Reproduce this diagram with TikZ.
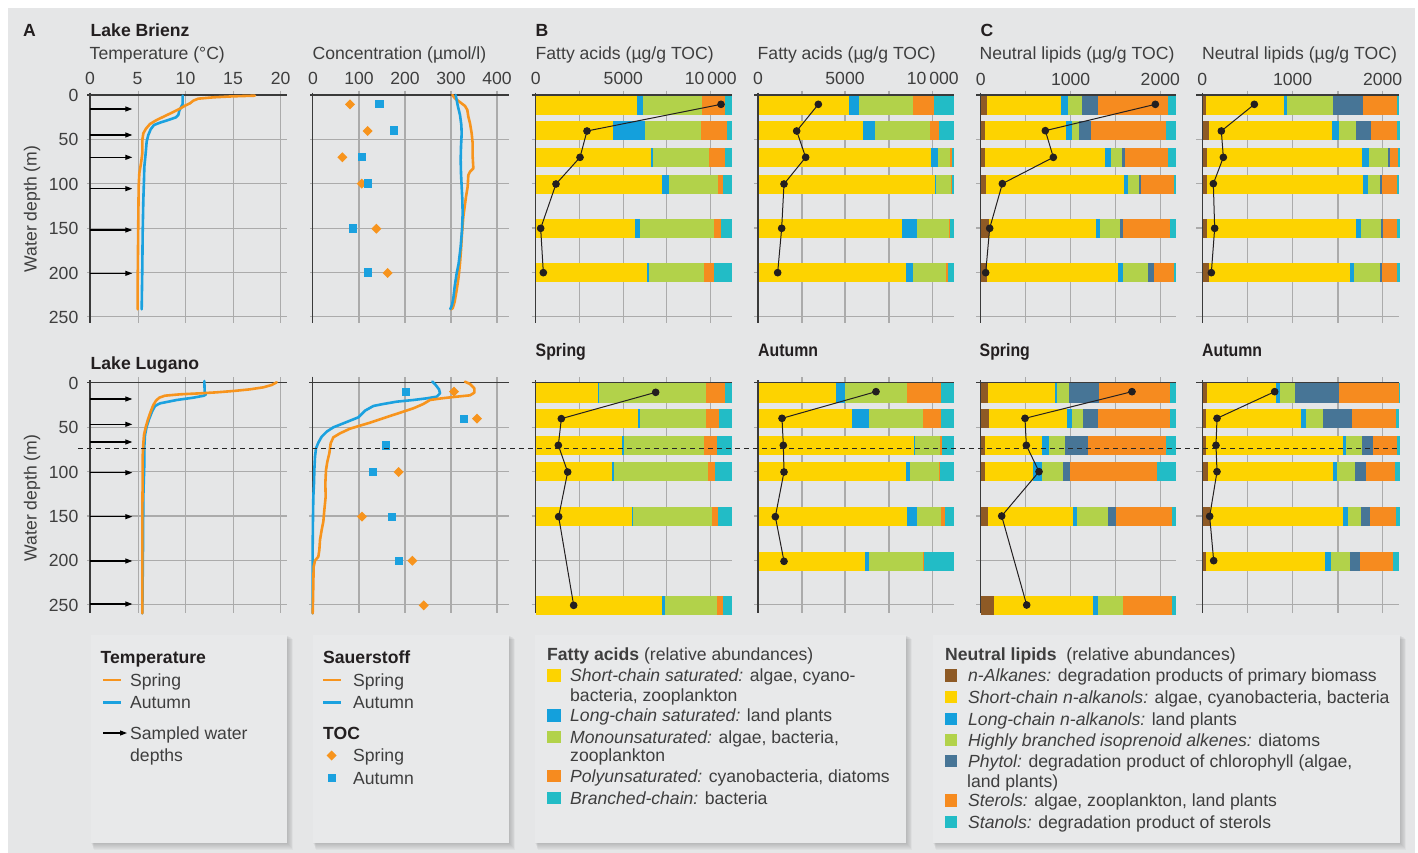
\documentclass[tikz,border=0pt]{standalone}
\usepackage{fontspec}
\setmainfont{Liberation Sans}
\newfontfamily\condfont[FakeStretch=0.88]{Liberation Sans}
\usetikzlibrary{arrows.meta}
\definecolor{bg}{HTML}{E5E6E7}
\definecolor{boxbg}{HTML}{E8E9EA}
\definecolor{cY}{HTML}{FDD300}
\definecolor{cB}{HTML}{14A0DC}
\definecolor{cG}{HTML}{B2D24A}
\definecolor{cO}{HTML}{F68B1F}
\definecolor{cC}{HTML}{22BCC6}
\definecolor{cBr}{HTML}{8E5A25}
\definecolor{cS}{HTML}{477596}
\definecolor{gridc}{HTML}{ABABAB}
\definecolor{axc}{HTML}{3A3A3A}
\definecolor{txt}{HTML}{3E3E3E}
\definecolor{hdc}{HTML}{231F20}
\definecolor{lineO}{HTML}{F7941D}
\definecolor{lineB}{HTML}{1BA1DF}
\newcommand\myfs{\fontsize{17.6}{21}\selectfont}
\newcommand\segbar[3]{\foreach \ssa/\ssb/\ssc in {#3}{\fill[\ssc] (\ssa,#1) rectangle (\ssb,#2);}}
\newcommand\tocD[2]{\fill[lineO] (#1,#2) +(0,-15) -- +(15,0) -- +(0,15) -- +(-15,0) -- cycle;}
\newcommand\tocS[2]{\fill[lineB] (#1,#2) +(-12.5,-12.5) rectangle +(12.5,12.5);}
\newcommand\legbox[4]{%
  \foreach \s in {1,...,7}{\fill[black,opacity=0.028] (#1+\s*0.4,#2+\s*0.6) rectangle (#3+\s*0.9,#4+\s*1.0);}
  \fill[boxbg] (#1,#2) rectangle (#3,#4);}
\tikzset{
  gridl/.style={draw=gridc, line width=1.4pt},
  axl/.style={draw=axc, line width=1.3pt},
  dl/.style={draw=hdc, line width=1pt, mark=*, mark size=3.3pt, mark options={fill=hdc, draw=hdc}},
  tO/.style={draw=lineO, line width=2.6pt, line join=round, line cap=round},
  tB/.style={draw=lineB, line width=2.6pt, line join=round, line cap=round},
  arr/.style={draw=black, line width=1.1pt, -{Triangle[length=7pt,width=5pt]}},
  lt/.style={font=\myfs, text=txt, inner sep=0pt, anchor=base west},
  tk/.style={font=\myfs, text=txt, inner sep=0pt, anchor=base},
  yk/.style={font=\myfs, text=txt, inner sep=0pt, anchor=base east},
  hd/.style={font=\myfs\bfseries, text=hdc, inner sep=0pt, anchor=base west},
  sh/.style={font=\fontsize{18}{21}\condfont\bfseries, text=hdc, inner sep=0pt, anchor=base west},
}
\begin{document}
\begin{tikzpicture}[x=1pt,y=-1pt]
\useasboundingbox (0,0) rectangle (1418,853);
\fill[white] (0,0) rectangle (1418,853);
\fill[bg] (8,8) rectangle (1415,853);

% ---------------- titles ----------------
\node[hd] (tA) at (23,36.5) {A};
\node[hd] (tBr) at (90.5,37) {Lake Brienz};
\node[lt] (tTemp) at (89.5,60) {Temperature (°C)};
\node[lt] (tConc) at (312.5,60) {Concentration (µmol/l)};
\node[hd] (tB) at (535.5,36.5) {B};
\node[lt] (tFA1) at (535.5,60) {Fatty acids (µg/g TOC)};
\node[lt] (tFA2) at (757.5,60) {Fatty acids (µg/g TOC)};
\node[hd] (tC) at (980.5,36.5) {C};
\node[lt] (tNL1) at (979.5,60) {Neutral lipids (µg/g TOC)};
\node[lt] (tNL2) at (1202,60) {Neutral lipids (µg/g TOC)};
\node[hd] (tLu) at (90.5,369) {Lake Lugano};
\node[sh] (s1) at (535.5,356.7) {Spring};
\node[sh] (s2) at (758,356.7) {Autumn};
\node[sh] (s3) at (979.5,356.7) {Spring};
\node[sh] (s4) at (1202,356.7) {Autumn};
\node[font=\myfs, text=txt, rotate=90, inner sep=0pt] (wd1) at (32,209) {Water depth (m)};
\node[font=\myfs, text=txt, rotate=90, inner sep=0pt] (wd2) at (32,498) {Water depth (m)};

% x tick labels
\foreach \v/\xx in {0/90,5/137.5,10/185.5,15/233,20/280.7} \node[tk] (xt\v) at (\xx,85) {\v};
\foreach \v/\xx in {0/313,100/359,200/405,300/451,400/497} \node[tk] (xc\v) at (\xx,85) {\v};
\foreach \v/\xx in {0/535.7,5000/623.3} \node[tk] (xfa\v) at (\xx,85) {\v};
\node[tk] (xfaT) at (710.7,85) {10\,000};
\foreach \v/\xx in {0/758,5000/845} \node[tk] (xfb\v) at (\xx,85) {\v};
\node[tk] (xfbT) at (932.7,85) {10\,000};
\foreach \v/\xx in {0/980.7,1000/1070.7,2000/1160.3} \node[tk] (xn\v) at (\xx,86) {\v};
\foreach \v/\xx in {0/1202.3,1000/1292.7,2000/1382.7} \node[tk] (xm\v) at (\xx,86) {\v};
% y tick labels
\foreach \v/\yy in {0/95,50/139.3,100/183.7,150/228.3,200/272.7,250/316.7} \node[yk] (ya\v) at (78.5,\yy+6.3) {\v};
\foreach \v/\yy in {0/382.7,50/427.3,100/471.7,150/516,200/560.3,250/604.7} \node[yk] (yb\v) at (78.5,\yy+6.3) {\v};

% ================= Temperature Brienz =================
\begin{scope}[shift={(0pt,0pt)},x=0.33333pt,y=-0.33333pt]
\foreach \g in {415,557,700,842} \draw[gridl] (\g,272) -- (\g,968);
\foreach \g in {418,551,685,818,950} \draw[gridl] (262,\g) -- (860,\g);
\draw[axl] (270,278) -- (270,968);
\draw[axl] (262,285) -- (860,285);
\foreach \a in {327,405,472,566,690,820} \draw[arr] (270,\a) -- (397,\a);
\draw[tB] (548,287) -- (548,312) -- (543,322) -- (538,332) -- (535,345) -- (528,352) -- (505,360) -- (480,368) -- (462,375) -- (452,388) -- (445,405) -- (440,425) -- (437,460) -- (433,500) -- (432,540) -- (430,600) -- (428,700) -- (427,800) -- (425,928);
\draw[tO] (765,287) -- (700,289) -- (640,292) -- (595,296) -- (580,302) -- (570,310) -- (555,317) -- (540,326) -- (520,336) -- (495,348) -- (470,360) -- (450,372) -- (438,386) -- (430,400) -- (427,420) -- (427,460) -- (423,490) -- (418,520) -- (416,560) -- (415,650) -- (414,750) -- (413,850) -- (413,928);
\end{scope}

% ================= Temperature Lugano =================
\begin{scope}[shift={(0pt,-330pt)},x=0.33333pt,y=-0.33333pt]
\foreach \g in {415,557,700,842} \draw[gridl] (\g,142) -- (\g,850);
\foreach \g in {292,425,558,691,824} \draw[gridl] (262,\g) -- (860,\g);
\draw[axl] (270,150) -- (270,850);
\draw[axl] (262,158) -- (860,158);
\foreach \a in {207,283,336,428,560,693,822} \draw[arr] (270,\a) -- (397,\a);
\draw[tB] (613,153) -- (614,185) -- (618,193) -- (612,197) -- (580,203) -- (530,210) -- (480,220) -- (465,228) -- (456,245) -- (447,268) -- (440,290) -- (435,315) -- (433,350) -- (433,400) -- (430,500) -- (429,650) -- (428,750) -- (427,850);
\draw[tO] (830,157) -- (815,165) -- (790,172) -- (750,178) -- (700,183) -- (650,187) -- (600,190) -- (540,193) -- (495,197) -- (478,203) -- (468,212) -- (460,225) -- (452,245) -- (444,268) -- (437,292) -- (432,315) -- (430,340) -- (428,380) -- (428,450) -- (427,550) -- (427,700) -- (427,850);
\end{scope}

% ================= Concentration Brienz =================
\begin{scope}[shift={(290pt,0pt)},x=0.33333pt,y=-0.33333pt]
\foreach \g in {207,345,483,621} \draw[gridl] (\g,272) -- (\g,968);
\foreach \g in {418,551,685,818,950} \draw[gridl] (60,\g) -- (656,\g);
\draw[axl] (68,278) -- (68,968);
\draw[axl] (60,285) -- (656,285);
\draw[tO] (487,285) -- (495,295) -- (508,305) -- (525,318) -- (532,330) -- (535,350) -- (540,370) -- (545,400) -- (548,430) -- (548,470) -- (550,505) -- (540,515) -- (535,525) -- (533,560) -- (528,590) -- (524,620) -- (520,650) -- (516,700) -- (513,750) -- (510,790) -- (506,830) -- (500,870) -- (494,905) -- (488,925) -- (483,928);
\draw[tB] (497,285) -- (500,300) -- (504,320) -- (510,345) -- (514,375) -- (515,400) -- (513,440) -- (512,480) -- (513,520) -- (515,560) -- (517,600) -- (518,640) -- (516,690) -- (512,740) -- (506,790) -- (500,820) -- (494,860) -- (490,895) -- (486,915) -- (481,927);
\tocD{180}{313}\tocD{233}{393}\tocD{157}{472}\tocD{215}{551}\tocD{259}{686}\tocD{293}{819}
\tocS{268}{312}\tocS{312}{392}\tocS{215}{472}\tocS{233}{551}\tocS{188}{686}\tocS{233}{818}
\end{scope}

% ================= Concentration Lugano =================
\begin{scope}[shift={(290pt,-330pt)},x=0.33333pt,y=-0.33333pt]
\foreach \g in {207,345,483,621} \draw[gridl] (\g,142) -- (\g,850);
\foreach \g in {292,425,558,691,824} \draw[gridl] (58,\g) -- (656,\g);
\draw[axl] (68,140) -- (68,850);
\draw[axl] (58,158) -- (656,158);
\draw[tB] (427,155) -- (437,165) -- (447,178) -- (450,190) -- (440,200) -- (410,205) -- (370,210) -- (320,215) -- (280,222) -- (250,228) -- (225,242) -- (205,262) -- (185,270) -- (160,280) -- (130,292) -- (110,305) -- (95,320) -- (85,338) -- (78,355) -- (75,380) -- (73,420) -- (72,460) -- (70,500) -- (69,560) -- (68,650) -- (68,750) -- (68,850);
\draw[tO] (525,155) -- (540,162) -- (553,175) -- (553,188) -- (540,196) -- (500,200) -- (455,205) -- (420,210) -- (400,222) -- (370,235) -- (340,245) -- (300,258) -- (270,268) -- (240,278) -- (210,287) -- (180,296) -- (150,310) -- (130,322) -- (122,340) -- (118,370) -- (112,395) -- (108,420) -- (106,460) -- (107,500) -- (103,540) -- (100,575) -- (95,600) -- (90,630) -- (88,660) -- (85,680) -- (75,692) -- (71,710) -- (70,760) -- (69,810) -- (68,850);
\tocD{492}{185}\tocD{561}{266}\tocD{326}{426}\tocD{216}{560}\tocD{367}{692}\tocD{401}{826}
\tocS{348}{185}\tocS{521}{266}\tocS{287}{346}\tocS{249}{426}\tocS{306}{560}\tocS{327}{692}
\end{scope}

% ================= Fatty acids Brienz =================
\begin{scope}[shift={(520pt,0pt)},x=0.33333pt,y=-0.33333pt]
\foreach \g in {178,310,440,572,846,975,1107,1238} \draw[gridl] (\g,272) -- (\g,968);
\foreach \g in {418,551,684,817,950} {\draw[gridl] (35,\g) -- (636,\g); \draw[gridl] (703,\g) -- (1302,\g);}
\segbar{288}{344}{47/352/cY,352/369/cB,369/546/cG,546/615/cO,615/636/cC}
\segbar{363}{419}{47/279/cY,279/375/cB,375/543/cG,543/621/cO,621/636/cC}
\segbar{443}{500}{47/393/cY,393/399/cB,399/567/cG,567/615/cO,615/636/cC}
\segbar{525}{581}{47/426/cY,426/447/cB,447/594/cG,594/609/cO,609/636/cC}
\segbar{657}{713}{47/345/cY,345/360/cB,360/582/cG,582/603/cO,603/636/cC}
\segbar{790}{846}{47/381/cY,381/387/cB,387/552/cG,552/582/cO,582/636/cC}
\segbar{288}{344}{716/987/cY,987/1017/cB,1017/1179/cG,1179/1241/cO,1241/1302/cC}
\segbar{363}{419}{716/1029/cY,1029/1065/cB,1065/1230/cG,1230/1257/cO,1257/1302/cC}
\segbar{443}{500}{716/1233/cY,1233/1254/cB,1254/1290/cG,1290/1296/cO,1296/1302/cC}
\segbar{525}{581}{716/1245/cY,1245/1248/cB,1248/1293/cG,1293/1296/cO,1296/1302/cC}
\segbar{657}{713}{716/1146/cY,1146/1191/cB,1191/1287/cG,1287/1290/cO,1290/1302/cC}
\segbar{790}{846}{716/1158/cY,1158/1179/cB,1179/1278/cG,1278/1284/cO,1284/1302/cC}
\draw[axl] (47,278) -- (47,968); \draw[axl] (35,285) -- (636,285);
\draw[axl] (714,278) -- (714,968); \draw[axl] (703,285) -- (1302,285);
\draw[dl] plot coordinates {(603,313) (201,393) (180,472) (108,552) (62,685) (70,818)};
\draw[dl] plot coordinates {(895,313) (830,393) (857,472) (792,552) (785,685) (773,818)};
\end{scope}

% ================= Fatty acids Lugano =================
\begin{scope}[shift={(520pt,-330pt)},x=0.33333pt,y=-0.33333pt]
\foreach \g in {178,310,440,572,846,975,1107,1238} \draw[gridl] (\g,142) -- (\g,850);
\foreach \g in {292,425,558,691,824} {\draw[gridl] (35,\g) -- (636,\g); \draw[gridl] (703,\g) -- (1302,\g);}
\segbar{160}{218}{47/235/cY,235/237/cB,237/558/cG,558/615/cO,615/636/cC}
\segbar{237}{293}{47/354/cY,354/360/cB,360/558/cG,558/597/cO,597/636/cC}
\segbar{318}{374}{47/307/cY,307/311/cB,311/552/cG,552/591/cO,591/636/cC}
\segbar{396}{452}{47/276/cY,276/282/cB,282/564/cG,564/585/cO,585/636/cC}
\segbar{531}{587}{47/336/cY,336/339/cB,339/576/cG,576/594/cO,594/636/cC}
\segbar{798}{855}{47/426/cY,426/435/cB,435/591/cG,591/609/cO,609/636/cC}
\segbar{160}{218}{716/948/cY,948/975/cB,975/1161/cG,1161/1263/cO,1263/1302/cC}
\segbar{237}{293}{716/996/cY,996/1047/cB,1047/1209/cG,1209/1263/cO,1263/1302/cC}
\segbar{318}{374}{716/1182/cY,1182/1185/cB,1185/1260/cG,1260/1266/cO,1266/1302/cC}
\segbar{396}{452}{716/1158/cY,1158/1170/cB,1170/1257/cG,1257/1260/cO,1260/1302/cC}
\segbar{531}{587}{716/1161/cY,1161/1191/cB,1191/1263/cG,1263/1275/cO,1275/1302/cC}
\segbar{666}{722}{716/1035/cY,1035/1047/cB,1047/1209/cG,1209/1212/cO,1212/1302/cC}
\draw[axl] (47,150) -- (47,850); \draw[axl] (35,158) -- (636,158);
\draw[axl] (714,150) -- (714,850); \draw[axl] (703,158) -- (1302,158);
\draw[dl] plot coordinates {(407,187) (124,266) (115,346) (143,426) (116,560) (161,826)};
\draw[dl] plot coordinates {(1068,185) (786,265) (790,346) (792,426) (766,560) (792,694)};
\end{scope}

% ================= Neutral lipids Brienz =================
\begin{scope}[shift={(960pt,0pt)},x=0.33333pt,y=-0.33333pt]
\foreach \g in {196,332,467,601,863,998,1134,1268} \draw[gridl] (\g,272) -- (\g,968);
\foreach \g in {418,551,684,817,950} {\draw[gridl] (48,\g) -- (648,\g); \draw[gridl] (708,\g) -- (1318,\g);}
\segbar{288}{344}{62/80/cBr,80/303/cY,303/324/cB,324/366/cG,366/414/cS,414/624/cO,624/648/cC}
\segbar{363}{419}{62/75/cBr,75/318/cY,318/336/cB,336/357/cG,357/393/cS,393/618/cO,618/648/cC}
\segbar{443}{500}{62/75/cBr,75/436/cY,436/453/cB,453/486/cG,486/495/cS,495/624/cO,624/648/cC}
\segbar{525}{581}{62/78/cBr,78/492/cY,492/504/cB,504/537/cG,537/543/cS,543/642/cO,642/648/cC}
\segbar{657}{713}{62/87/cBr,87/408/cY,408/420/cB,420/480/cG,480/489/cS,489/630/cO,630/648/cC}
\segbar{790}{846}{62/81/cBr,81/474/cY,474/489/cB,489/564/cG,564/582/cS,582/642/cO,642/648/cC}
\segbar{288}{344}{729/738/cBr,738/972/cY,972/981/cB,981/1119/cG,1119/1209/cS,1209/1312/cO,1312/1316/cC}
\segbar{363}{419}{729/747/cBr,747/1116/cY,1116/1137/cB,1137/1188/cG,1188/1233/cS,1233/1311/cO,1311/1319/cC}
\segbar{443}{500}{729/741/cBr,741/1206/cY,1206/1227/cB,1227/1284/cG,1284/1290/cS,1290/1313/cO,1313/1319/cC}
\segbar{525}{581}{729/741/cBr,741/1209/cY,1209/1224/cB,1224/1260/cG,1260/1266/cS,1266/1311/cO,1311/1317/cC}
\segbar{657}{713}{729/741/cBr,741/1188/cY,1188/1203/cB,1203/1263/cG,1263/1269/cS,1269/1311/cO,1311/1319/cC}
\segbar{790}{846}{729/747/cBr,747/1170/cY,1170/1182/cB,1182/1260/cG,1260/1266/cS,1266/1311/cO,1311/1319/cC}
\draw[axl] (62,278) -- (62,968); \draw[axl] (48,285) -- (648,285);
\draw[axl] (727,278) -- (727,968); \draw[axl] (708,285) -- (1318,285);
\draw[dl] plot coordinates {(586,313) (256,392) (280,472) (127,551) (89,685) (77,818)};
\draw[dl] plot coordinates {(883,313) (784,393) (790,472) (760,551) (764,685) (754,818)};
\end{scope}

% ================= Neutral lipids Lugano =================
\begin{scope}[shift={(960pt,-330pt)},x=0.33333pt,y=-0.33333pt]
\foreach \g in {196,332,467,601,863,998,1134,1268} \draw[gridl] (\g,142) -- (\g,850);
\foreach \g in {292,425,558,691,824} {\draw[gridl] (48,\g) -- (648,\g); \draw[gridl] (708,\g) -- (1318,\g);}
\segbar{160}{218}{62/84/cBr,84/285/cY,285/291/cB,291/327/cG,327/417/cS,417/630/cO,630/648/cC}
\segbar{237}{293}{62/87/cBr,87/321/cY,321/336/cB,336/369/cG,369/414/cS,414/630/cO,630/648/cC}
\segbar{318}{374}{62/75/cBr,75/246/cY,246/267/cB,267/315/cG,315/384/cS,384/618/cO,618/648/cC}
\segbar{396}{452}{62/75/cBr,75/219/cY,219/246/cB,246/309/cG,309/330/cS,330/591/cO,591/648/cC}
\segbar{531}{587}{62/84/cBr,84/339/cY,339/351/cB,351/444/cG,444/468/cS,468/636/cO,636/648/cC}
\segbar{798}{855}{62/102/cBr,102/399/cY,399/414/cB,414/489/cG,489/636/cO,636/648/cC}
\segbar{160}{218}{729/741/cBr,741/948/cY,948/960/cB,960/1005/cG,1005/1137/cS,1137/1317/cO,1317/1320/cC}
\segbar{237}{293}{729/738/cBr,738/1023/cY,1023/1038/cB,1038/1089/cG,1089/1176/cS,1176/1308/cO,1308/1317/cC}
\segbar{318}{374}{729/738/cBr,738/1149/cY,1149/1158/cB,1158/1206/cG,1206/1239/cS,1239/1311/cO,1311/1320/cC}
\segbar{396}{452}{729/744/cBr,744/1119/cY,1119/1131/cB,1131/1185/cG,1185/1218/cS,1218/1305/cO,1305/1320/cC}
\segbar{531}{587}{729/750/cBr,750/1149/cY,1149/1164/cB,1164/1203/cG,1203/1230/cS,1230/1308/cO,1308/1320/cC}
\segbar{666}{722}{729/738/cBr,738/1095/cY,1095/1113/cB,1113/1170/cG,1170/1200/cS,1200/1299/cO,1299/1317/cC}
\draw[axl] (62,150) -- (62,850); \draw[axl] (48,158) -- (648,158);
\draw[axl] (727,150) -- (727,850); \draw[axl] (708,158) -- (1318,158);
\draw[dl] plot coordinates {(516,185) (195,265) (199,346) (237,425) (125,558) (200,825)};
\draw[dl] plot coordinates {(944,185) (771,265) (768,346) (771,425) (749,559) (761,692)};
\end{scope}

% dashed line (chemocline)
\draw[black!85, line width=1.2pt, dash pattern=on 5pt off 4pt] (78,448.3) -- (1400,448.3);

% ================= Legends =================
\legbox{91}{635}{287}{843}
\legbox{313}{635}{509}{843}
\legbox{535}{635}{906}{843}
\legbox{933}{635}{1400}{843}

\node[hd] (lg1) at (100.5,663.3) {Temperature};
\draw[lineO, line width=2.6pt] (103,680) -- (121,680);
\node[lt] (lg1s) at (130,686) {Spring};
\draw[lineB, line width=2.6pt] (103,702.7) -- (121,702.7);
\node[lt] (lg1a) at (130,708.3) {Autumn};
\draw[arr] (103,733) -- (127,733);
\node[lt] (lg1w) at (130,739.3) {Sampled water};
\node[lt] (lg1d) at (130,761.7) {depths};

\node[hd] (lg2) at (323,663.3) {Sauerstoff};
\draw[lineO, line width=2.6pt] (323,680) -- (341,680);
\node[lt] (lg2s) at (353,686) {Spring};
\draw[lineB, line width=2.6pt] (323,702.7) -- (341,702.7);
\node[lt] (lg2a) at (353,708.3) {Autumn};
\node[hd] (lg2t) at (323,739.3) {TOC};
\fill[lineO] (331.7,750.5) -- (336.7,755.5) -- (331.7,760.5) -- (326.7,755.5) -- cycle;
\node[lt] (lg2ts) at (353,761.7) {Spring};
\fill[lineB] (327.7,774) rectangle (335.7,782);
\node[lt] (lg2ta) at (353,784.3) {Autumn};

\node[lt] (lg3) at (547,660.7) {\textbf{Fatty acids} (relative abundances)};
\foreach \c/\b in {cY/681.7,cB/721.7,cG/743.3,cO/782.3,cC/804} \fill[\c] (547.3,\b-12.3) rectangle (560.6,\b);
\node[lt] (f1) at (570,681.7) {\textit{Short-chain saturated:} algae, cyano-};
\node[lt] (f1b) at (570,701) {bacteria, zooplankton};
\node[lt] (f2) at (570,721.7) {\textit{Long-chain saturated:} land plants};
\node[lt] (f3) at (570,743.3) {\textit{Monounsaturated:} algae, bacteria,};
\node[lt] (f3b) at (570,761.7) {zooplankton};
\node[lt] (f4) at (570,782.3) {\textit{Polyunsaturated:} cyanobacteria, diatoms};
\node[lt] (f5) at (570,804) {\textit{Branched-chain:} bacteria};

\node[lt] (lg4) at (945,660.7) {\textbf{Neutral lipids}\ \ (relative abundances)};
\foreach \c/\b in {cBr/681.7,cY/703.3,cB/725,cG/746,cS/767.3,cO/806.7,cC/828.3} \fill[\c] (945,\b-12.3) rectangle (957.3,\b);
\node[lt] (n1) at (968,681.7) {\textit{n-Alkanes:} degradation products of primary biomass};
\node[lt] (n2) at (968,703.3) {\textit{Short-chain n-alkanols:} algae, cyanobacteria, bacteria};
\node[lt] (n3) at (968,725) {\textit{Long-chain n-alkanols:} land plants};
\node[lt] (n4) at (968,746) {\textit{Highly branched isoprenoid alkenes:} diatoms};
\node[lt] (n5) at (968,767.3) {\textit{Phytol:} degradation product of chlorophyll (algae,};
\node[lt] (n5b) at (967,787.5) {land plants)};
\node[lt] (n6) at (968,806.7) {\textit{Sterols:} algae, zooplankton, land plants};
\node[lt] (n7) at (968,828.3) {\textit{Stanols:} degradation product of sterols};
\end{tikzpicture}
\end{document}
